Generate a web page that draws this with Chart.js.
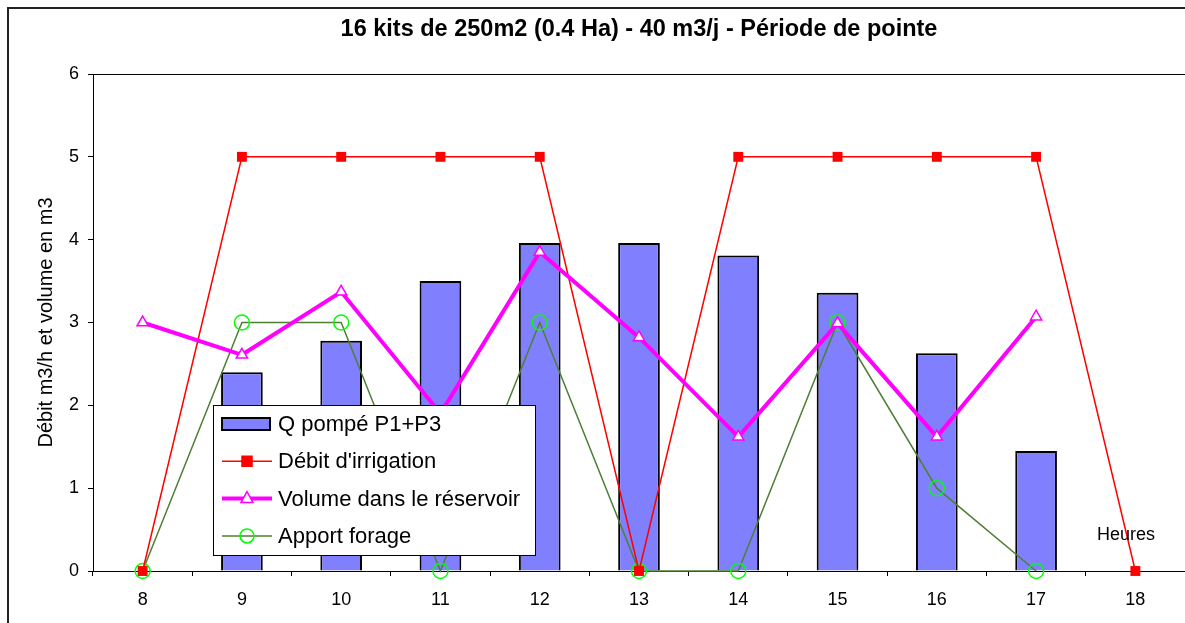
<!DOCTYPE html>
<html lang="fr">
<head>
<meta charset="UTF-8">
<title>Période de pointe</title>
<script src="https://cdn.jsdelivr.net/npm/chart.js"></script>
<style>
    body { margin: 0; background: #fff; font-family: Arial, "Liberation Sans", sans-serif; overflow: hidden; }
    #wrap { position: relative; width: 1185px; height: 623px; }
    canvas { display: block; }
</style>
</head>
<body>
<div id="wrap"><canvas id="myChart"></canvas></div>
<script>
    // données
    const heures = ['8', '9', '10', '11', '12', '13', '14', '15', '16', '17', '18'];
    const qPompe = [0, 2.4, 2.78, 3.5, 3.96, 3.96, 3.81, 3.36, 2.63, 1.45, 0];
    const debitIrrigation = [0, 5, 5, 5, 5, 0, 5, 5, 5, 5, 0];
    const volumeReservoir = [3, 2.61, 3.37, 1.9, 3.85, 2.82, 1.62, 2.99, 1.62, 3.07, null];
    const apportForage = [0, 3, 3, 0, 3, 0, 0, 3, 1, 0, null];
    const yTicks = [0, 1, 2, 3, 4, 5, 6];

    const titre = '16 kits de 250m2 (0.4 Ha) - 40 m3/j - Période de pointe';
    const font = 'Arial, "Liberation Sans", sans-serif';

    const legendItems = [
        { label: 'Q pompé P1+P3', type: 'bar' },
        { label: "Débit d'irrigation", type: 'rect', line: '#ff0000', lw: 1.5, fill: '#ff0000', stroke: '#ff0000' },
        { label: 'Volume dans le réservoir', type: 'triangle', line: '#ff00ff', lw: 4, fill: '#ffffff', stroke: '#ff00ff' },
        { label: 'Apport forage', type: 'circle', line: '#4d7f33', lw: 1.5, fill: null, stroke: '#00ff00' }
    ];

    // cadre, titre, légende, "Heures"
    const decor = {
        id: 'decor',
        beforeDraw(chart) {
            const ctx = chart.ctx;
            const a = chart.chartArea;
            ctx.save();
            ctx.strokeStyle = '#222';
            ctx.lineWidth = 2;
            ctx.beginPath();
            ctx.moveTo(8, 623);
            ctx.lineTo(8, 8);
            ctx.lineTo(1185, 8);
            ctx.stroke();
            ctx.strokeStyle = '#000';
            ctx.lineWidth = 1;
            ctx.beginPath();
            ctx.moveTo(a.left, a.top + 0.5);
            ctx.lineTo(a.right, a.top + 0.5);
            ctx.stroke();
            ctx.fillStyle = '#000';
            ctx.font = 'bold 23.5px ' + font;
            ctx.textAlign = 'center';
            ctx.textBaseline = 'alphabetic';
            ctx.fillText(titre, (a.left + a.right) / 2, 36);
            ctx.restore();
        },
        afterDraw(chart) {
            const ctx = chart.ctx;
            ctx.save();
            ctx.fillStyle = '#000';
            ctx.font = '18px ' + font;
            ctx.textAlign = 'left';
            ctx.textBaseline = 'alphabetic';
            ctx.fillText('Heures', 1097, 540);

            const bx = 213.5, by = 405.5, bw = 322, bh = 150;
            ctx.fillStyle = '#fff';
            ctx.fillRect(bx, by, bw, bh);
            ctx.strokeStyle = '#000';
            ctx.lineWidth = 1;
            ctx.strokeRect(bx, by, bw, bh);

            legendItems.forEach((it, i) => {
                const cy = 424 + i * 37.3;
                const x0 = 222, x1 = 272, cx = 247;
                if (it.type === 'bar') {
                    ctx.fillStyle = '#8080ff';
                    ctx.fillRect(x0, cy - 6, 48, 12);
                    ctx.strokeStyle = '#000';
                    ctx.lineWidth = 2;
                    ctx.strokeRect(x0, cy - 6, 48, 12);
                } else {
                    ctx.strokeStyle = it.line;
                    ctx.lineWidth = it.lw;
                    ctx.beginPath();
                    ctx.moveTo(x0, cy);
                    ctx.lineTo(x1, cy);
                    ctx.stroke();
                    ctx.lineWidth = 1.5;
                    ctx.strokeStyle = it.stroke;
                    ctx.beginPath();
                    if (it.type === 'rect') {
                        ctx.rect(cx - 5, cy - 5, 10, 10);
                    } else if (it.type === 'triangle') {
                        ctx.moveTo(cx, cy - 7);
                        ctx.lineTo(cx + 6, cy + 4);
                        ctx.lineTo(cx - 6, cy + 4);
                        ctx.closePath();
                    } else {
                        ctx.arc(cx, cy, 7, 0, Math.PI * 2);
                    }
                    if (it.fill) { ctx.fillStyle = it.fill; ctx.fill(); }
                    ctx.stroke();
                }
                ctx.fillStyle = '#000';
                ctx.font = '22px ' + font;
                ctx.textBaseline = 'middle';
                ctx.fillText(it.label, 278, cy + 1);
            });
            ctx.restore();
        }
    };

    const ctx = document.getElementById('myChart').getContext('2d');
    new Chart(ctx, {
        type: 'bar',
        data: {
            labels: heures,
            datasets: [
                {
                    type: 'line',
                    label: "Débit d'irrigation",
                    data: debitIrrigation,
                    borderColor: '#ff0000',
                    borderWidth: 1.5,
                    pointStyle: 'rect',
                    pointRadius: 7,
                    pointBackgroundColor: '#ff0000',
                    pointBorderColor: '#ff0000',
                    pointBorderWidth: 0,
                    tension: 0,
                    clip: false,
                    order: 2
                },
                {
                    type: 'line',
                    label: 'Volume dans le réservoir',
                    data: volumeReservoir,
                    borderColor: '#ff00ff',
                    borderWidth: 4,
                    pointStyle: 'triangle',
                    pointRadius: 6.5,
                    pointBackgroundColor: '#ffffff',
                    pointBorderColor: '#ff00ff',
                    pointBorderWidth: 1.5,
                    tension: 0,
                    clip: false,
                    order: 1
                },
                {
                    type: 'line',
                    label: 'Apport forage',
                    data: apportForage,
                    borderColor: '#4d7f33',
                    borderWidth: 1.5,
                    pointStyle: 'circle',
                    pointRadius: 7.5,
                    pointBackgroundColor: 'rgba(0,0,0,0)',
                    pointBorderColor: '#00ff00',
                    pointBorderWidth: 1.5,
                    tension: 0,
                    clip: false,
                    order: 3
                },
                {
                    label: 'Q pompé P1+P3',
                    data: qPompe,
                    backgroundColor: '#8080ff',
                    borderColor: '#000000',
                    borderWidth: 2,
                    barPercentage: 0.42,
                    categoryPercentage: 1,
                    order: 10
                }
            ]
        },
        options: {
            responsive: true,
            maintainAspectRatio: false,
            animation: false,
            layout: { autoPadding: false, padding: { top: 74, left: 0, right: 0, bottom: 0 } },
            plugins: {
                legend: { display: false },
                title: { display: false },
                tooltip: { enabled: false }
            },
            scales: {
                x: {
                    grid: { display: true, drawOnChartArea: false, drawTicks: true, tickLength: 5, color: '#000', offset: true },
                    border: { display: true, color: '#000', width: 1 },
                    ticks: { color: '#000', font: { family: font, size: 18 }, padding: 13, maxRotation: 0 },
                    afterFit(scale) {
                        scale.height = 52;
                        scale.paddingLeft = 0;
                        scale.paddingRight = 0;
                    }
                },
                y: {
                    min: 0,
                    max: 6,
                    afterBuildTicks(scale) { scale.ticks = yTicks.map(v => ({ value: v })); },
                    grid: { display: true, drawOnChartArea: false, drawTicks: true, tickLength: 5, color: '#000' },
                    border: { display: true, color: '#000', width: 1 },
                    ticks: { color: '#000', font: { family: font, size: 18 }, padding: 9 },
                    title: {
                        display: true,
                        text: 'Débit m3/h et volume en m3',
                        color: '#000',
                        font: { family: font, size: 20 },
                        padding: { top: 34, bottom: 0 }
                    },
                    afterFit(scale) { scale.width = 93; }
                }
            }
        },
        plugins: [decor]
    });
</script>
</body>
</html>
